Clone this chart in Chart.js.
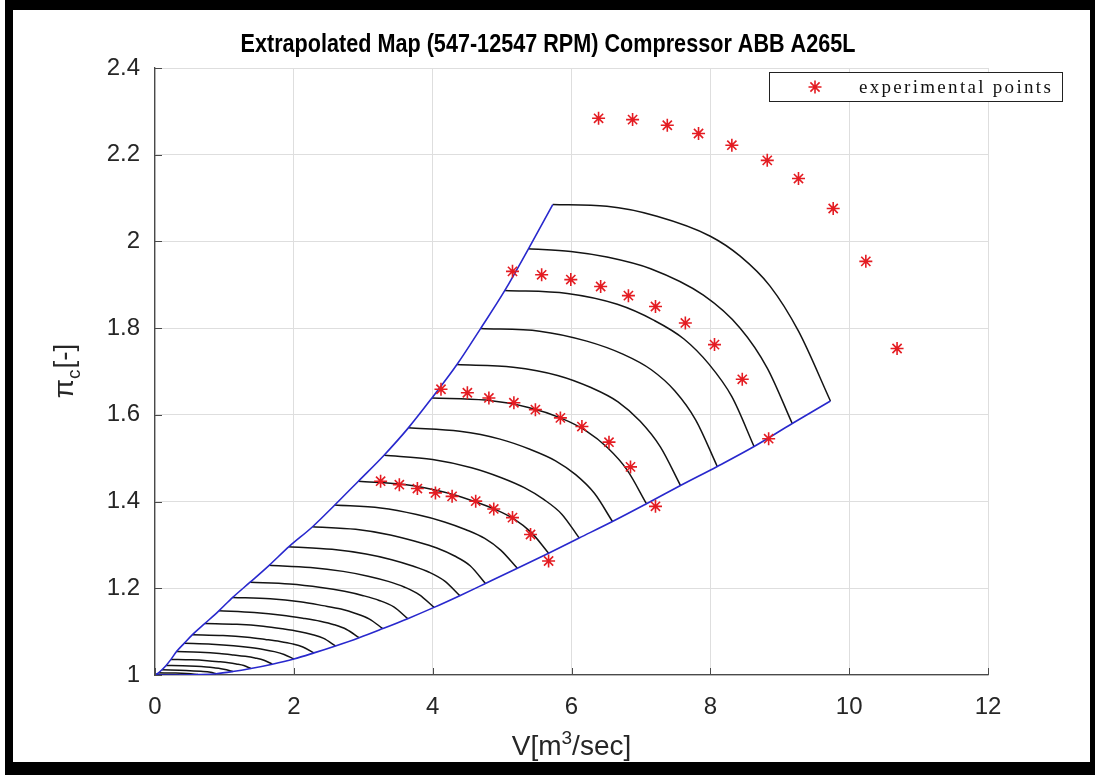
<!DOCTYPE html>
<html><head><meta charset="utf-8">
<script src="https://cdn.jsdelivr.net/npm/chart.js@4.4.1/dist/chart.umd.min.js"></script>
<style>html,body{margin:0;padding:0;background:#fff;}#wrap{width:1095px;height:775px;position:relative;}</style>
</head><body><div id="wrap"><canvas id="c" width="1095" height="775"></canvas></div>
<script>
// ---------- text ----------
const titleText = 'Extrapolated Map (547-12547 RPM) Compressor ABB A265L';
const xTitleParts = ['V[m', '3', '/sec]'];
const yTitleParts = ['\u03c0', 'c', '[-]'];
const legendLabel = 'experimental points';
// ---------- ticks ----------
const xTickValues = [0, 2, 4, 6, 8, 10, 12];
const xTickLabels = ['0', '2', '4', '6', '8', '10', '12'];
const yTickValues = [1, 1.2, 1.4, 1.6, 1.8, 2, 2.2, 2.4];
const yTickLabels = ['1', '1.2', '1.4', '1.6', '1.8', '2', '2.2', '2.4'];
// ---------- boundaries ----------
const surgeLine = [[0,1],[0.01,1.001],[0.05,1.005],[0.10,1.012],[0.16,1.022],[0.23,1.036],[0.31,1.054],[0.42,1.073],[0.54,1.093],[0.72,1.119],[0.92,1.148],[1.12,1.179],[1.37,1.214],[1.645,1.253],[1.93,1.296],[2.27,1.342],[2.59,1.392],[2.93,1.447],[3.30,1.507],[3.65,1.570],[3.99,1.639],[4.35,1.716],[4.69,1.799],[5.04,1.887],[5.38,1.983],[5.73,2.085]];
const chokeLine = [[0,1],[0.35,1.000],[0.62,1.001],[0.88,1.003],[1.12,1.008],[1.38,1.015],[1.69,1.025],[2.00,1.037],[2.29,1.051],[2.60,1.067],[2.94,1.086],[3.28,1.107],[3.64,1.130],[4.02,1.156],[4.39,1.183],[4.76,1.211],[5.22,1.246],[5.67,1.281],[6.11,1.316],[6.59,1.354],[7.08,1.395],[7.57,1.437],[8.10,1.481],[8.63,1.527],[9.18,1.580],[9.73,1.632]];
// ---------- speed lines (RPM) ----------
const rpm12547 = [[5.73,2.085],[6.51,2.081],[7.23,2.058],[8.00,2.012],[8.43,1.966],[8.86,1.897],[9.27,1.793],[9.73,1.632]];
const rpm12047 = [[5.38,1.983],[5.99,1.977],[6.51,1.964],[7.14,1.937],[7.90,1.876],[8.43,1.800],[8.82,1.708],[9.18,1.580]];
const rpm11547 = [[5.04,1.887],[5.94,1.880],[6.66,1.855],[7.19,1.818],[7.62,1.775],[7.98,1.717],[8.31,1.642],[8.63,1.527]];
const rpm11047 = [[4.69,1.799],[5.54,1.793],[6.22,1.770],[6.74,1.740],[7.15,1.704],[7.49,1.655],[7.79,1.588],[8.10,1.481]];
const rpm10547 = [[4.35,1.716],[5.16,1.710],[5.80,1.691],[6.28,1.663],[6.67,1.630],[6.99,1.585],[7.28,1.526],[7.57,1.437]];
const rpm10047 = [[3.99,1.639],[4.76,1.634],[5.38,1.617],[5.84,1.593],[6.21,1.563],[6.52,1.524],[6.80,1.473],[7.08,1.395]];
const rpm9547 = [[3.65,1.570],[4.39,1.562],[4.97,1.544],[5.41,1.520],[5.77,1.494],[6.06,1.462],[6.33,1.419],[6.59,1.354]];
const rpm9047 = [[3.30,1.507],[4.00,1.497],[4.56,1.478],[4.99,1.455],[5.32,1.432],[5.60,1.405],[5.86,1.371],[6.11,1.316]];
const rpm8547 = [[2.93,1.447],[3.62,1.439],[4.16,1.422],[4.57,1.402],[4.90,1.382],[5.18,1.359],[5.42,1.329],[5.67,1.281]];
const rpm8047 = [[2.59,1.392],[3.25,1.385],[3.77,1.370],[4.17,1.353],[4.48,1.335],[4.75,1.315],[4.98,1.288],[5.22,1.246]];
const rpm7547 = [[2.27,1.342],[2.89,1.336],[3.39,1.323],[3.76,1.308],[4.06,1.293],[4.31,1.275],[4.54,1.252],[4.76,1.211]];
const rpm7047 = [[1.93,1.296],[2.55,1.290],[3.04,1.279],[3.41,1.266],[3.70,1.252],[3.95,1.237],[4.17,1.217],[4.39,1.183]];
const rpm6547 = [[1.645,1.253],[2.24,1.248],[2.71,1.239],[3.07,1.228],[3.36,1.216],[3.59,1.203],[3.81,1.185],[4.02,1.156]];
const rpm6047 = [[1.37,1.214],[1.94,1.210],[2.39,1.202],[2.73,1.193],[3.00,1.183],[3.23,1.172],[3.44,1.157],[3.64,1.130]];
const rpm5547 = [[1.12,1.179],[1.66,1.176],[2.09,1.169],[2.42,1.160],[2.68,1.152],[2.89,1.142],[3.09,1.129],[3.28,1.107]];
const rpm5047 = [[0.92,1.148],[1.43,1.144],[1.83,1.138],[2.13,1.131],[2.38,1.124],[2.58,1.116],[2.76,1.105],[2.94,1.086]];
const rpm4547 = [[0.72,1.119],[1.18,1.117],[1.56,1.1125],[1.84,1.1065],[2.07,1.1005],[2.26,1.0935],[2.43,1.0845],[2.60,1.067]];
const rpm4047 = [[0.54,1.093],[0.98,1.091],[1.33,1.087],[1.59,1.082],[1.80,1.0774],[1.98,1.0718],[2.13,1.0646],[2.29,1.051]];
const rpm3547 = [[0.42,1.073],[0.82,1.071],[1.13,1.0676],[1.37,1.0633],[1.56,1.059],[1.72,1.0539],[1.86,1.0474],[2.00,1.037]];
const rpm3047 = [[0.31,1.054],[0.65,1.0526],[0.93,1.0498],[1.13,1.0464],[1.30,1.0431],[1.44,1.0392],[1.57,1.0341],[1.69,1.025]];
const rpm2547 = [[0.23,1.036],[0.52,1.035],[0.75,1.033],[0.92,1.0306],[1.06,1.0282],[1.17,1.0254],[1.28,1.0218],[1.38,1.015]];
const rpm2047 = [[0.16,1.022],[0.40,1.0213],[0.59,1.0199],[0.74,1.0182],[0.85,1.0165],[0.95,1.0146],[1.03,1.0121],[1.12,1.008]];
const rpm1547 = [[0.10,1.012],[0.45,1.0106],[0.66,1.0086],[0.80,1.0064],[0.88,1.003]];
const rpm1047 = [[0.05,1.005],[0.30,1.0045],[0.45,1.0035],[0.57,1.002],[0.62,1.001]];
const rpm547 = [[0.01,1.001],[0.15,1.0008],[0.25,1.0005],[0.35,1.000]];
const speedLines = [rpm12547,rpm12047,rpm11547,rpm11047,rpm10547,rpm10047,rpm9547,rpm9047,rpm8547,rpm8047,rpm7547,rpm7047,rpm6547,rpm6047,rpm5547,rpm5047,rpm4547,rpm4047,rpm3547,rpm3047,rpm2547,rpm2047,rpm1547,rpm1047,rpm547];
// ---------- experimental points ----------
const expRow1 = [[6.39,2.284],[6.88,2.281],[7.38,2.268],[7.83,2.249],[8.31,2.222],[8.82,2.187],[9.27,2.145],[9.77,2.076],[10.24,1.954],[10.69,1.753]];
const expRow2 = [[5.15,1.931],[5.57,1.923],[5.99,1.912],[6.42,1.896],[6.82,1.875],[7.21,1.850],[7.64,1.812],[8.06,1.762],[8.46,1.682],[8.84,1.545]];
const expRow3 = [[4.12,1.659],[4.50,1.651],[4.81,1.639],[5.17,1.628],[5.48,1.612],[5.84,1.593],[6.15,1.573],[6.54,1.537],[6.85,1.480],[7.21,1.389]];
const expRow4 = [[3.25,1.447],[3.52,1.439],[3.78,1.430],[4.04,1.420],[4.28,1.412],[4.62,1.401],[4.88,1.383],[5.15,1.363],[5.41,1.324],[5.67,1.263]];

const FONT = '"Liberation Sans", Arial, Helvetica, sans-serif';
const RED = 'rgb(228,28,34)';
const BLUE = 'rgb(40,40,205)';
const AXIS = '#4a4a4a';
const TXT = '#262626';
const toXY = a => a.map(p => ({x: p[0], y: p[1]}));

const datasets = [];
[expRow1, expRow2, expRow3, expRow4].forEach(r => datasets.push({
  data: toXY(r), showLine: false, pointStyle: 'star', pointRadius: 6.5,
  borderColor: RED, backgroundColor: RED, pointBorderColor: RED, pointBorderWidth: 1.6, order: 0
}));
[surgeLine, chokeLine].forEach(l => datasets.push({
  data: toXY(l), showLine: true, borderColor: BLUE, borderWidth: 1.6, pointRadius: 0,
  cubicInterpolationMode: 'monotone', order: 1
}));
speedLines.forEach(l => datasets.push({
  data: toXY(l), showLine: true, borderColor: '#141414', borderWidth: 1.5, pointRadius: 0,
  cubicInterpolationMode: 'monotone', order: 2
}));

function drawStar(c, x, y, r) {
  c.beginPath();
  c.moveTo(x - r, y); c.lineTo(x + r, y);
  c.moveTo(x, y - r); c.lineTo(x, y + r);
  const d = r * Math.SQRT1_2;
  c.moveTo(x - d, y - d); c.lineTo(x + d, y + d);
  c.moveTo(x - d, y + d); c.lineTo(x + d, y - d);
  c.stroke();
}

const decor = {
  id: 'decor',
  beforeDraw(chart) {
    const c = chart.ctx; c.save(); c.fillStyle = '#fff'; c.fillRect(0, 0, chart.width, chart.height); c.restore();
  },
  afterDraw(chart) {
    const c = chart.ctx, xs = chart.scales.x, ys = chart.scales.y, a = chart.chartArea;
    c.save();
    // inward tick marks
    c.strokeStyle = AXIS; c.lineWidth = 1;
    xTickValues.forEach(v => { const px = Math.round(xs.getPixelForValue(v)) + 0.5; c.beginPath(); c.moveTo(px, a.bottom); c.lineTo(px, a.bottom - 7); c.stroke(); });
    yTickValues.forEach(v => { const py = Math.round(ys.getPixelForValue(v)) + 0.5; c.beginPath(); c.moveTo(a.left, py); c.lineTo(a.left + 7, py); c.stroke(); });
    // title
    c.fillStyle = '#000'; c.textAlign = 'left'; c.textBaseline = 'alphabetic';
    c.font = 'bold 26px ' + FONT;
    const tw = c.measureText(titleText).width, target = 615;
    c.save(); c.translate(548 - target / 2, 52); c.scale(target / tw, 1); c.fillText(titleText, 0, 0); c.restore();
    // x axis title
    c.fillStyle = TXT;
    const big = '28px ' + FONT, small = '19px ' + FONT;
    c.font = big; const w0 = c.measureText(xTitleParts[0]).width, w2 = c.measureText(xTitleParts[2]).width;
    c.font = small; const w1 = c.measureText(xTitleParts[1]).width;
    let xx = (a.left + a.right) / 2 - (w0 + w1 + w2) / 2; const by = 755;
    c.font = big; c.fillText(xTitleParts[0], xx, by); xx += w0;
    c.font = small; c.fillText(xTitleParts[1], xx, by - 11); xx += w1;
    c.font = big; c.fillText(xTitleParts[2], xx, by);
    // y axis title
    c.save(); c.translate(73, (a.top + a.bottom) / 2); c.rotate(-Math.PI / 2);
    c.font = big; const v0 = c.measureText(yTitleParts[0]).width, v2 = c.measureText(yTitleParts[2]).width;
    c.font = small; const v1 = c.measureText(yTitleParts[1]).width;
    let yy = -(v0 + v1 + v2) / 2;
    c.font = big; c.fillText(yTitleParts[0], yy, 0); yy += v0;
    c.font = small; c.fillText(yTitleParts[1], yy, 7); yy += v1 + 1;
    c.font = big; c.fillText(yTitleParts[2], yy, 0);
    c.restore();
    // legend
    c.fillStyle = '#fff'; c.fillRect(769.5, 72.5, 293, 29);
    c.strokeStyle = '#222'; c.lineWidth = 1; c.strokeRect(769.5, 72.5, 293, 29);
    c.strokeStyle = RED; c.lineWidth = 1.6; drawStar(c, 815, 87, 6.5);
    c.fillStyle = '#111'; c.font = '19px "Liberation Serif", "Times New Roman", serif';
    let lx = 859;
    for (const ch of legendLabel) { c.fillText(ch, lx, 93); lx += c.measureText(ch).width + 2.3; }
    // outer black frame
    c.fillStyle = '#000';
    c.fillRect(5, 0, 1090, 10);
    c.fillRect(5, 0, 8, 775);
    c.fillRect(5, 762, 1090, 13);
    c.fillRect(1090, 0, 5, 775);
    c.restore();
  }
};

new Chart(document.getElementById('c'), {
  type: 'scatter',
  data: { datasets },
  options: {
    responsive: false, animation: false, devicePixelRatio: 1, events: [],
    layout: { padding: { top: 68, right: 107, left: 0, bottom: 0 } },
    plugins: { legend: { display: false }, tooltip: { enabled: false }, title: { display: false } },
    scales: {
      x: {
        type: 'linear', min: 0, max: 12,
        afterBuildTicks: s => { s.ticks = xTickValues.map(v => ({ value: v })); },
        afterFit: s => { s.height = 100; },
        ticks: { callback: (v, i) => xTickLabels[i], font: { family: FONT, size: 24 }, color: TXT, padding: 18, maxRotation: 0, autoSkip: false },
        grid: { color: '#dedede', lineWidth: 1, drawTicks: false },
        border: { display: true, color: AXIS, width: 1.3 }
      },
      y: {
        type: 'linear', min: 1, max: 2.4,
        afterBuildTicks: s => { s.ticks = yTickValues.map(v => ({ value: v })); },
        afterFit: s => { s.width = 155; },
        ticks: { callback: (v, i) => yTickLabels[i], font: { family: FONT, size: 24 }, color: TXT, padding: 15, autoSkip: false },
        grid: { color: '#dedede', lineWidth: 1, drawTicks: false },
        border: { display: true, color: AXIS, width: 1.3 }
      }
    }
  },
  plugins: [decor]
});
</script>
</body></html>
